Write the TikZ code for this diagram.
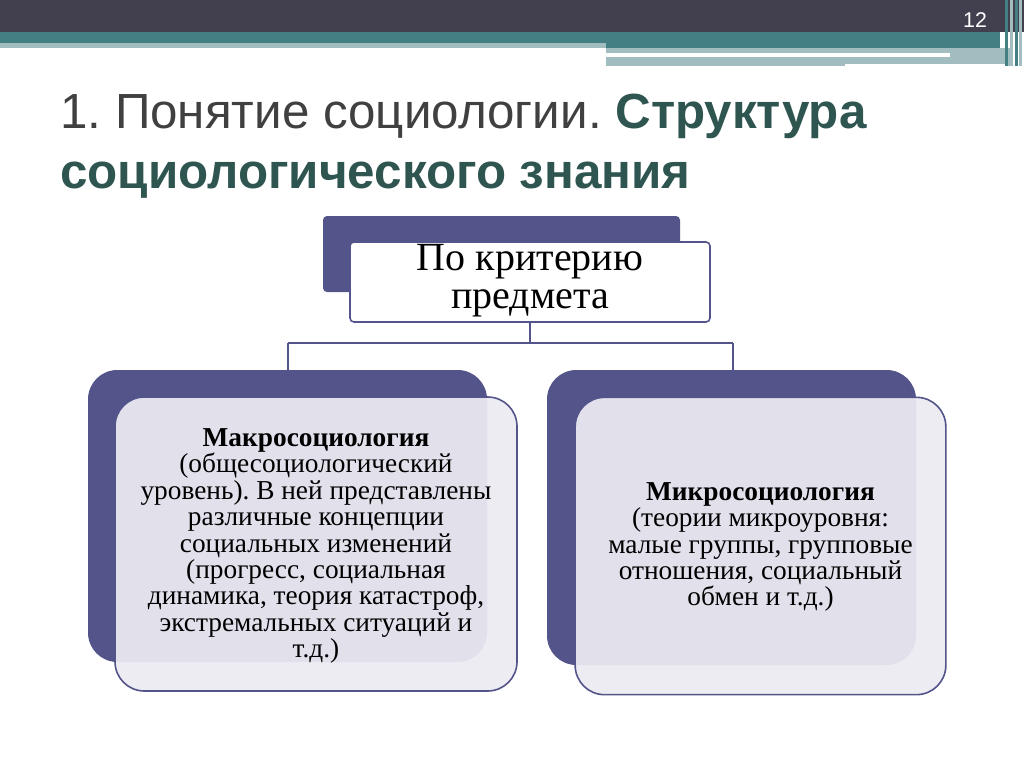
\documentclass[tikz,border=0pt]{standalone}
\usepackage{fontspec}
\setmainfont{Liberation Serif}
\newfontfamily\titlefont{Liberation Sans}
\frenchspacing
\begin{document}
\begin{tikzpicture}[x=0.75pt,y=-0.75pt,
  back/.style={fill=dkp,draw=none,rounded corners=22pt},
  front/.style={fill=ltp,fill opacity=0.93,draw=dkp,line width=1.2pt,rounded corners=22pt,text opacity=1},
  conn/.style={draw=dkp,line width=0.8pt},
  body/.style={font=\fontsize{20.5}{19.8}\selectfont,align=center,text=black}]
\definecolor{dkp}{HTML}{53548A}
\definecolor{ltp}{HTML}{ECEBF3}
\definecolor{band}{HTML}{42404F}
\definecolor{teal}{HTML}{447F83}
\definecolor{lteal}{HTML}{A1BDC0}
\definecolor{ttl}{HTML}{2F5551}
\useasboundingbox (0,0) rectangle (1024,767);
\fill[white] (0,0) rectangle (1024,767);
\fill[band] (0,0) rectangle (1024,32);
\fill[teal] (0,32) rectangle (1000,43);
\fill[teal] (606,43) rectangle (1000,48);
\fill[lteal] (0,43) rectangle (606,48);
\fill[lteal] (606,48) rectangle (1010,66);
\fill[white] (606,53) rectangle (950,57);
\fill[white] (845,64) rectangle (1005,67);
\foreach \x/\c in {1005/teal,1010/lteal,1015/teal,1019/lteal}
  \fill[\c] (\x,0) rectangle (\x+3,66);
\node[text=white,font=\titlefont\fontsize{16}{18}\selectfont] (num) at (975,20) {12};
\node[anchor=base west,font=\titlefont\fontsize{37}{40}\selectfont,text=black!75,inner sep=0] (t1) at (60,128)
  {1. Понятие социологии. \textcolor{ttl}{\bfseries Структура}};
\node[anchor=base west,font=\titlefont\bfseries\fontsize{37}{40}\selectfont,text=ttl,inner sep=0] (t2) at (60,188)
  {социологического знания};
% header
\fill[dkp,rounded corners=3pt] (323,216) rectangle (680,292);
\node[fill=white,draw=dkp,line width=1.2pt,rounded corners=3pt,minimum width=270pt,minimum height=60pt] (hd) at (530,282) {};
\node[font=\fontsize{30}{28.5}\selectfont,align=center] (hdt) at (530,281) {По критерию\\предмета};
\coordinate (j) at (530,343);
\coordinate (jl) at (288,343);
\coordinate (jr) at (733,343);
\coordinate (el) at (288,370);
\coordinate (er) at (733,370);
\draw[conn] (hd.south) -- (j) (jl) -- (jr) (jl) -- (el) (jr) -- (er);
% left
\fill[back] (88,370) rectangle (487,662);
\node[front,minimum width=301.5pt,minimum height=220.5pt] (lb) at (316,544) {};
\node[body] (lt) at (316,546) {\textbf{Макросоциология}\\(общесоциологический\\уровень). В ней представлены\\различные концепции\\социальных изменений\\(прогресс, социальная\\динамика, теория катастроф,\\экстремальных ситуаций и\\т.д.)};
% right
\fill[back] (547,370) rectangle (916,665);
\node[front,minimum width=278pt,minimum height=223pt] (rb) at (760.5,546) {};
\node[body] (rt) at (760.5,547) {\textbf{Микросоциология}\\(теории микроуровня:\\малые группы, групповые\\отношения, социальный\\обмен и т.д.)};
\end{tikzpicture}
\end{document}
